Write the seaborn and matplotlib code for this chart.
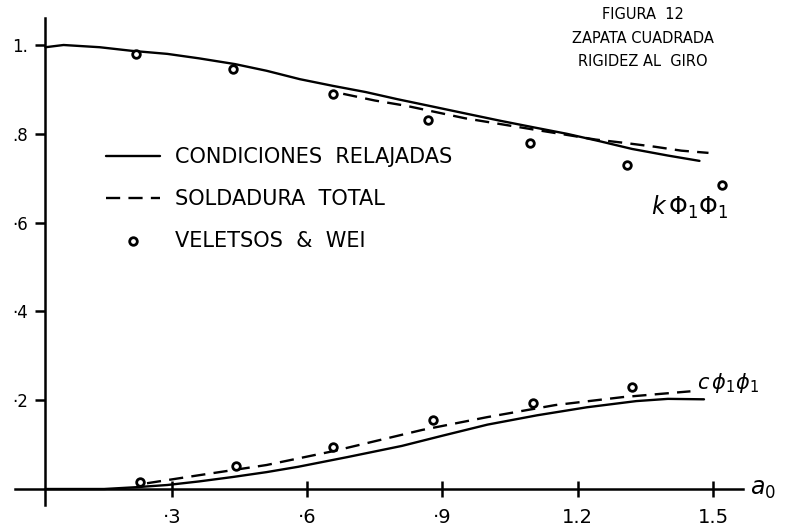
import matplotlib
matplotlib.use("Agg")
import matplotlib.pyplot as plt
import seaborn as sns
import pandas as pd

# ---- data ----
# k (rigidez) - condiciones relajadas (solid)
k_relaj_a0 = [0.02, 0.06, 0.14, 0.21, 0.29, 0.36, 0.44, 0.51, 0.584, 0.657, 0.73, 0.80, 0.88, 0.95, 1.03, 1.10, 1.176, 1.25, 1.32, 1.40, 1.47]
k_relaj = [0.995, 1.0, 0.995, 0.987, 0.98, 0.97, 0.957, 0.942, 0.923, 0.908, 0.894, 0.878, 0.861, 0.846, 0.829, 0.815, 0.80, 0.783, 0.766, 0.751, 0.739]
# k - soldadura total (dashed)
k_sold_a0 = [0.68, 0.75, 0.82, 0.95, 1.10, 1.24, 1.30, 1.37, 1.43, 1.49]
k_sold = [0.89, 0.875, 0.863, 0.835, 0.81, 0.787, 0.78, 0.771, 0.762, 0.757]
# k - Veletsos & Wei (circles)
k_vw_a0 = [0.22, 0.436, 0.657, 0.868, 1.094, 1.31, 1.52]
k_vw = [0.98, 0.946, 0.89, 0.831, 0.78, 0.73, 0.685]

# c (amortiguamiento) - condiciones relajadas (solid)
c_relaj_a0 = [0.02, 0.15, 0.22, 0.29, 0.36, 0.435, 0.51, 0.58, 0.69, 0.81, 0.90, 1.0, 1.11, 1.22, 1.33, 1.40, 1.48]
c_relaj = [0.0, 0.0, 0.004, 0.009, 0.017, 0.027, 0.038, 0.05, 0.072, 0.097, 0.12, 0.145, 0.166, 0.184, 0.198, 0.203, 0.202]
# c - soldadura total (dashed)
c_sold_a0 = [0.245, 0.36, 0.51, 0.657, 0.855, 1.0, 1.15, 1.30, 1.45]
c_sold = [0.013, 0.031, 0.054, 0.085, 0.133, 0.162, 0.189, 0.207, 0.22]
# c - Veletsos & Wei (circles)
c_vw_a0 = [0.23, 0.443, 0.657, 0.88, 1.10, 1.32]
c_vw = [0.016, 0.052, 0.094, 0.155, 0.193, 0.229]

x_ticks = [0.3, 0.6, 0.9, 1.2, 1.5]
x_tick_labels = ["·3", "·6", "·9", "1.2", "1.5"]
y_ticks = [0.2, 0.4, 0.6, 0.8, 1.0]
y_tick_labels = ["·2", "·4", "·6", ".8", "1."]

label_relaj = "CONDICIONES  RELAJADAS"
label_sold = "SOLDADURA  TOTAL"
label_vw = "VELETSOS  &  WEI"
title_lines = ["FIGURA  12", "ZAPATA CUADRADA", "RIGIDEZ AL  GIRO"]

# ---- style ----
sns.set_style("white")
plt.rcParams["font.family"] = ["DejaVu Sans"]
plt.rcParams["mathtext.fontset"] = "dejavusans"
plt.rcParams["text.color"] = "black"
plt.rcParams["xtick.color"] = "black"
plt.rcParams["ytick.color"] = "black"

W, H = 785, 530
fig = plt.figure(figsize=(W / 100, H / 100), dpi=100)
ax = fig.add_axes([0, 0, 1, 1])

# pixel mapping of the original: px = 36.5 + 451*x ; py = 489 - 444*y
ax.set_xlim(-36.5 / 451, (W - 36.5) / 451)
ax.set_ylim(-(H - 489) / 444, 489 / 444)

lw = 1.7
dash = (0, (6, 3.5))
line_kw = dict(color="black", linewidth=lw, estimator=None, sort=False, ax=ax,
               solid_joinstyle="round", solid_capstyle="round")
sc_kw = dict(marker="o", s=30, facecolor="white", edgecolor="black", linewidth=2.0, ax=ax, zorder=5)

df = lambda a, b: pd.DataFrame({"a0": a, "v": b})

sns.lineplot(data=df(k_relaj_a0, k_relaj), x="a0", y="v", label=label_relaj, **line_kw)
sns.lineplot(data=df(k_sold_a0, k_sold), x="a0", y="v", label=label_sold, linestyle=dash, **line_kw)
sns.scatterplot(data=df(k_vw_a0, k_vw), x="a0", y="v", label=label_vw, **sc_kw)
sns.lineplot(data=df(c_relaj_a0, c_relaj), x="a0", y="v", **line_kw)
sns.lineplot(data=df(c_sold_a0, c_sold), x="a0", y="v", linestyle=dash, **line_kw)
sns.scatterplot(data=df(c_vw_a0, c_vw), x="a0", y="v", **sc_kw)

# ---- axes (hand-drawn cross style) ----
for s in ["top", "right"]:
    ax.spines[s].set_visible(False)
ax.spines["left"].set_position(("data", 0.019))
ax.spines["bottom"].set_position(("data", 0.0))
ax.spines["left"].set_bounds(-0.036, 1.061)
ax.spines["bottom"].set_bounds(-0.048, 1.567)
for s in ["left", "bottom"]:
    ax.spines[s].set_linewidth(1.8)
    ax.spines[s].set_color("black")

ax.set_xticks(x_ticks)
ax.set_xticklabels(x_tick_labels, fontsize=14)
ax.set_yticks(y_ticks)
ax.set_yticklabels(y_tick_labels, fontsize=12)
ax.tick_params(axis="x", bottom=True, direction="inout", length=12, width=1.8, pad=8, colors="black")
ax.tick_params(axis="y", left=True, direction="out", length=7, width=1.8, pad=5, colors="black")
ax.set_xlabel("")
ax.set_ylabel("")

# ---- legend ----
handles, labels = ax.get_legend_handles_labels()
leg = ax.legend(handles[:3], labels[:3], loc="upper left",
                bbox_to_anchor=(106 / W, 1 - 147 / H), bbox_transform=fig.transFigure,
                frameon=False, fontsize=15, handlelength=2.6, handletextpad=0.7,
                labelspacing=1.05, borderpad=0, borderaxespad=0)
for t in leg.get_texts():
    t.set_color("black")

# ---- annotations ----
for i, t in enumerate(title_lines):
    ax.text(1.345, 1.068 - 0.053 * i, t, ha="center", va="center", fontsize=10.5)

ax.text(1.449, 0.635, r"$k\,\Phi_1\Phi_1$", ha="center", va="center", fontsize=17)
ax.text(1.533, 0.238, r"$c\,\phi_1\phi_1$", ha="center", va="center", fontsize=15)
ax.text(1.611, 0.0, r"$a_0$", ha="center", va="center", fontsize=17)

fig.savefig("out.png", dpi=100, facecolor="white")
